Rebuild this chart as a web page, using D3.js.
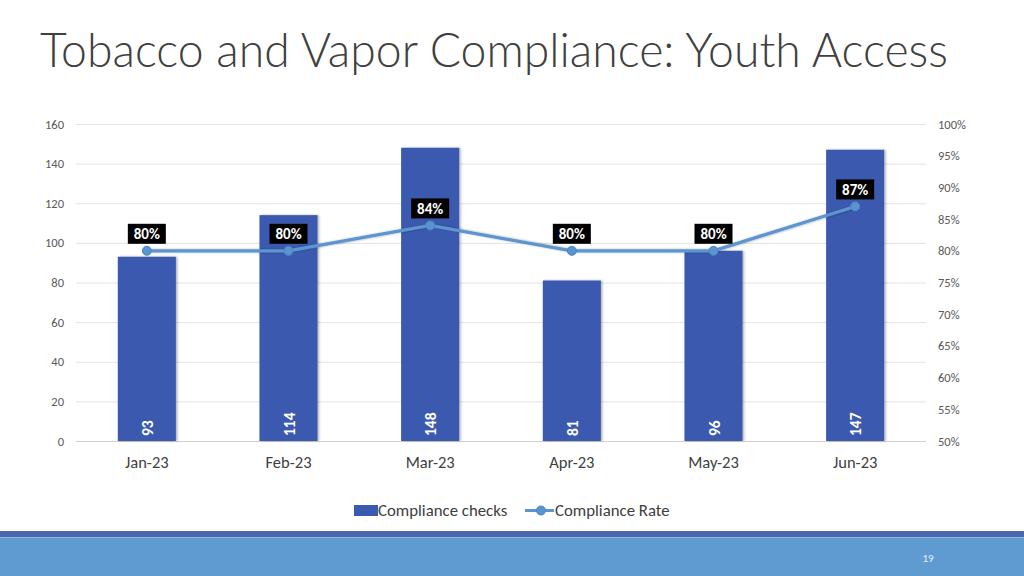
<!DOCTYPE html>
<html><head><meta charset="utf-8">
<script src="https://cdn.jsdelivr.net/npm/d3@7"></script>
<style>html,body{margin:0;padding:0;background:#fff}svg{display:block}</style>
</head><body>
<svg id="c" width="1024" height="576"></svg>
<script>
const categories = ["Jan-23","Feb-23","Mar-23","Apr-23","May-23","Jun-23"];
const checks = [93,114,148,81,96,147];
const rate = [80,80,84,80,80,87];
const leftTicks = [0,20,40,60,80,100,120,140,160];
const rightTicks = [50,55,60,65,70,75,80,85,90,95,100];

const svg = d3.select("#c");
const font = "Carlito, Lato, sans-serif";
const L = 76, R = 926, T = 124, B = 441;

// bottom bands
svg.append("rect").attr("x",0).attr("y",531).attr("width",1024).attr("height",7).attr("fill","#4B67AE");
svg.append("rect").attr("x",0).attr("y",538).attr("width",1024).attr("height",38).attr("fill","#5F9BD0");
svg.append("rect").attr("x",0).attr("y",537).attr("width",1024).attr("height",1).attr("fill","#8DB8E0");
svg.append("text").attr("x",928).attr("y",562).attr("text-anchor","middle").attr("font-family",font)
  .attr("font-size",11).attr("fill","#E8F0FA").text("19");

// title
svg.append("text").attr("x",40).attr("y",67).attr("font-family","Lato, sans-serif").attr("font-weight",300)
  .attr("font-size",47.5).attr("fill","#404040").attr("textLength",908).attr("lengthAdjust","spacingAndGlyphs")
  .text("Tobacco and Vapor Compliance: Youth Access");

const x = d3.scaleBand().domain(categories).range([L,R]).paddingInner(0.59).paddingOuter(0.295);
const y = d3.scaleLinear().domain([0,160]).range([B,T]);
const y2 = d3.scaleLinear().domain([50,100]).range([B,T]);

// gridlines
svg.append("g").selectAll("line").data(leftTicks).join("line")
  .attr("x1",L).attr("x2",R).attr("y1",d=>y(d)+0.5).attr("y2",d=>y(d)+0.5)
  .attr("stroke",d=>d===0?"#d0d0d0":"#e3e3e3").attr("stroke-width",1);

// left axis
const gl = svg.append("g").attr("transform",`translate(${L-12},0)`)
  .call(d3.axisLeft(y).tickValues(leftTicks).tickSize(0).tickPadding(0));
gl.select(".domain").remove();
gl.selectAll("text").attr("font-family",font).attr("font-size",12.5).attr("fill","#595959");

// right axis
const gr = svg.append("g").attr("transform",`translate(938,0)`)
  .call(d3.axisRight(y2).tickValues(rightTicks).tickSize(0).tickPadding(0).tickFormat(d=>d+"%"));
gr.select(".domain").remove();
gr.selectAll("text").attr("font-family",font).attr("font-size",12.5).attr("fill","#595959");

// x axis labels
const gx = svg.append("g").attr("transform",`translate(0,${B+15})`)
  .call(d3.axisBottom(x).tickSize(0).tickPadding(0));
gx.select(".domain").remove();
gx.selectAll("text").attr("font-family",font).attr("font-size",16.5).attr("fill","#404040");

// shadow filter
const defs = svg.append("defs");
const f = defs.append("filter").attr("id","sh").attr("x","-20%").attr("y","-20%").attr("width","140%").attr("height","140%");
f.append("feDropShadow").attr("dx",1.5).attr("dy",0).attr("stdDeviation",1).attr("flood-color","#000").attr("flood-opacity",0.3);

// bars
svg.append("g").selectAll("rect").data(checks).join("rect")
  .attr("x",(d,i)=>x(categories[i])).attr("width",x.bandwidth())
  .attr("y",d=>y(d)).attr("height",d=>B-y(d))
  .attr("fill","#3A5AAF").attr("filter","url(#sh)");

// bar labels
svg.append("g").selectAll("text").data(checks).join("text")
  .attr("transform",(d,i)=>`translate(${x(categories[i])+x.bandwidth()/2+6},${B-5}) rotate(-90)`)
  .attr("font-family",font).attr("font-weight","bold").attr("font-size",15.5).attr("fill","#fff")
  .text(d=>d);

// line
const cx = (i)=>x(categories[i])+x.bandwidth()/2;
const line = d3.line().x((d,i)=>cx(i)).y(d=>y2(d));
svg.append("path").datum(rate).attr("d",line).attr("fill","none")
  .attr("stroke","#5B95CF").attr("stroke-width",3.2).attr("filter","url(#sh)");
svg.append("g").selectAll("circle").data(rate).join("circle")
  .attr("cx",(d,i)=>cx(i)).attr("cy",d=>y2(d)).attr("r",4.5)
  .attr("fill","#5B95CF").attr("stroke","#4A86C4").attr("stroke-width",1);

// rate labels
const lg = svg.append("g").selectAll("g").data(rate).join("g")
  .attr("transform",(d,i)=>`translate(${cx(i)},${y2(d)-17})`);
lg.append("rect").attr("x",-19).attr("y",-10).attr("width",38).attr("height",20).attr("fill","#000");
lg.append("text").attr("text-anchor","middle").attr("dy","0.36em").attr("font-family",font)
  .attr("font-weight","bold").attr("font-size",15).attr("fill","#fff").text(d=>d+"%");

// legend
svg.append("rect").attr("x",354).attr("y",505).attr("width",24).attr("height",11).attr("fill","#3A5AAF");
svg.append("text").attr("x",378).attr("y",516).attr("font-family",font).attr("font-size",16.8).attr("fill","#404040").text("Compliance checks");
svg.append("line").attr("x1",525).attr("x2",554).attr("y1",510.5).attr("y2",510.5).attr("stroke","#5B95CF").attr("stroke-width",3);
svg.append("circle").attr("cx",541).attr("cy",510.5).attr("r",4.5).attr("fill","#5B95CF").attr("stroke","#4A86C4");
svg.append("text").attr("x",555).attr("y",516).attr("font-family",font).attr("font-size",16.8).attr("fill","#404040").text("Compliance Rate");
</script>
</body></html>
